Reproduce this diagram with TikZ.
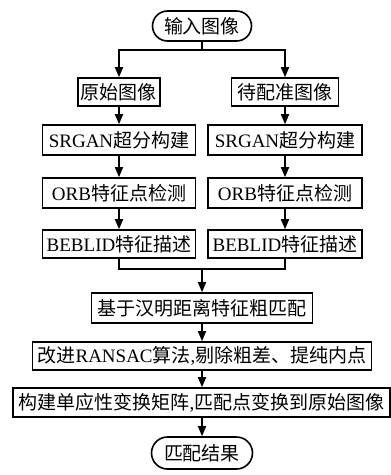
\documentclass[tikz,border=0pt]{standalone}
\usepackage{fontspec}
\setmainfont{Liberation Serif}
\newfontfamily\cjk{Noto Sans CJK SC}
\usetikzlibrary{arrows.meta,shapes.misc}
\begin{document}
\begin{tikzpicture}[x=1pt,y=-1pt,
  every node/.style={font=\fontsize{19pt}{21pt}\selectfont, inner sep=0pt, line width=1.6pt},
  procbox/.style={draw, rectangle},
  termbox/.style={draw, rounded rectangle},
  conn/.style={line width=1.6pt},
  arr/.style={conn, -{Triangle[length=10pt,width=8pt]}}]
\useasboundingbox (0,0) rectangle (391,475);
\node[termbox, minimum width=99pt, minimum height=30pt] (in) at (202,26) {\cjk 输入图像};
\node[procbox, minimum width=82pt, minimum height=28pt] (o1) at (119,92) {\cjk 原始图像};
\node[procbox, minimum width=107pt, minimum height=28pt] (o2) at (285,92) {\cjk 待配准图像};
\node[procbox, minimum width=153pt, minimum height=30pt] (s1) at (119,140) {SRGAN{\cjk 超分构建}};
\node[procbox, minimum width=154pt, minimum height=30pt] (s2) at (285,140) {SRGAN{\cjk 超分构建}};
\node[procbox, minimum width=153pt, minimum height=30pt] (r1) at (119,193) {ORB{\cjk 特征点检测}};
\node[procbox, minimum width=154pt, minimum height=30pt] (r2) at (285,193) {ORB{\cjk 特征点检测}};
\node[procbox, minimum width=153pt, minimum height=28pt] (b1) at (119,244) {BEBLID{\cjk 特征描述}};
\node[procbox, minimum width=154pt, minimum height=28pt] (b2) at (285,244) {BEBLID{\cjk 特征描述}};
\node[procbox, minimum width=221pt, minimum height=30pt] (m1) at (202,308) {\cjk 基于汉明距离特征粗匹配};
\node[procbox, minimum width=339pt, minimum height=28pt] (m2) at (202,356) {{\cjk 改进}RANSAC{\cjk 算法},{\cjk 剔除粗差、提纯内点}};
\node[procbox, minimum width=377pt, minimum height=29pt] (m3) at (201.5,402.5) {{\cjk 构建单应性变换矩阵},{\cjk 匹配点变换到原始图像}};
\node[termbox, minimum width=101pt, minimum height=32pt] (out) at (202,453) {\cjk 匹配结果};
\coordinate (sp) at (202,50);
\coordinate (mg) at (202,269);
\draw[conn] (in) -- (sp);
\draw[arr] (sp) -| (o1);
\draw[arr] (sp) -| (o2);
\draw[arr] (o1) -- (s1);
\draw[arr] (o2) -- (s2);
\draw[arr] (s1) -- (r1);
\draw[arr] (s2) -- (r2);
\draw[arr] (r1) -- (b1);
\draw[arr] (r2) -- (b2);
\draw[conn] (b1) |- (mg);
\draw[conn] (b2) |- (mg);
\draw[arr] (mg) -- (m1);
\draw[arr] (m1) -- (m2);
\draw[arr] (m2) -- (m3.north -| m2.south);
\draw[arr] (m3.south -| out.north) -- (out);
\end{tikzpicture}
\end{document}
